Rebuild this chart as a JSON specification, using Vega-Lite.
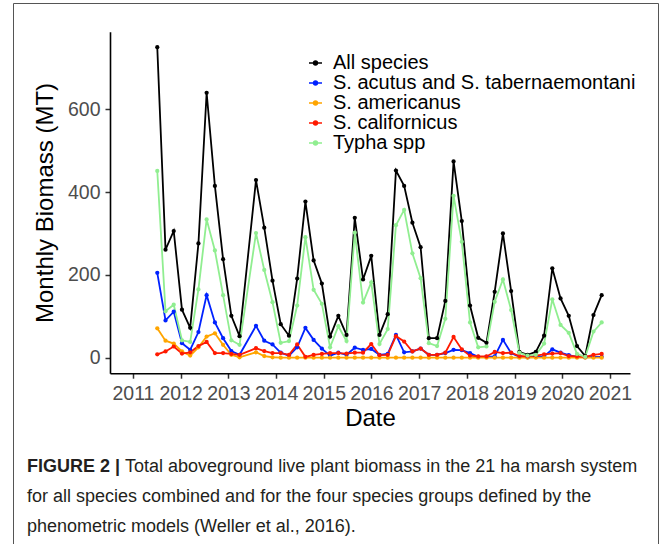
{
  "$schema": "https://vega.github.io/schema/vega-lite/v6.json",
  "width": 645,
  "height": 545,
  "autosize": {"type": "none"},
  "padding": {"left": 13, "top": 3, "right": 13, "bottom": -4},
  "background": "white",
  "config": {
    "view": {"stroke": "#555555", "strokeWidth": 1},
    "font": "Liberation Sans"
  },
  "title": {
    "text": "FIGURE 2 |",
    "subtitle": [
      "\u200b\u00a0\u00a0\u00a0\u00a0\u00a0\u00a0\u00a0\u00a0\u00a0\u00a0\u00a0\u00a0\u00a0\u00a0\u00a0\u00a0\u00a0\u00a0\u00a0\u2006Total aboveground live plant biomass in the 21 ha marsh system",
      "for all species combined and for the four species groups defined by the",
      "phenometric models (Weller et al., 2016)."
    ],
    "orient": "bottom",
    "anchor": "start",
    "frame": "group",
    "offset": -90,
    "dx": 14,
    "font": "Liberation Sans",
    "fontSize": 18,
    "fontWeight": "bold",
    "color": "#231F20",
    "subtitleFont": "Liberation Sans",
    "subtitleFontSize": 18,
    "subtitleFontWeight": "normal",
    "subtitleColor": "#231F20",
    "subtitleLineHeight": 30,
    "subtitlePadding": -18
  },
  "data": {
    "values": [
      {"year":2011.509,"species":"All species","biomass":750},
      {"year":2011.682,"species":"All species","biomass":261},
      {"year":2011.854,"species":"All species","biomass":306},
      {"year":2012.027,"species":"All species","biomass":116},
      {"year":2012.199,"species":"All species","biomass":72},
      {"year":2012.372,"species":"All species","biomass":276},
      {"year":2012.544,"species":"All species","biomass":640},
      {"year":2012.717,"species":"All species","biomass":415},
      {"year":2012.889,"species":"All species","biomass":238},
      {"year":2013.062,"species":"All species","biomass":101},
      {"year":2013.234,"species":"All species","biomass":52},
      {"year":2013.579,"species":"All species","biomass":429},
      {"year":2013.752,"species":"All species","biomass":314},
      {"year":2013.925,"species":"All species","biomass":186},
      {"year":2014.097,"species":"All species","biomass":81},
      {"year":2014.270,"species":"All species","biomass":53},
      {"year":2014.442,"species":"All species","biomass":191},
      {"year":2014.615,"species":"All species","biomass":377},
      {"year":2014.787,"species":"All species","biomass":235},
      {"year":2014.960,"species":"All species","biomass":179},
      {"year":2015.132,"species":"All species","biomass":51},
      {"year":2015.305,"species":"All species","biomass":101},
      {"year":2015.477,"species":"All species","biomass":55},
      {"year":2015.650,"species":"All species","biomass":338},
      {"year":2015.823,"species":"All species","biomass":189},
      {"year":2015.995,"species":"All species","biomass":246},
      {"year":2016.168,"species":"All species","biomass":55},
      {"year":2016.340,"species":"All species","biomass":105},
      {"year":2016.513,"species":"All species","biomass":452},
      {"year":2016.685,"species":"All species","biomass":415},
      {"year":2016.858,"species":"All species","biomass":326},
      {"year":2017.030,"species":"All species","biomass":267},
      {"year":2017.203,"species":"All species","biomass":47},
      {"year":2017.375,"species":"All species","biomass":47},
      {"year":2017.548,"species":"All species","biomass":137},
      {"year":2017.721,"species":"All species","biomass":474},
      {"year":2017.893,"species":"All species","biomass":330},
      {"year":2018.066,"species":"All species","biomass":126},
      {"year":2018.238,"species":"All species","biomass":48},
      {"year":2018.411,"species":"All species","biomass":36},
      {"year":2018.583,"species":"All species","biomass":159},
      {"year":2018.756,"species":"All species","biomass":300},
      {"year":2018.928,"species":"All species","biomass":161},
      {"year":2019.101,"species":"All species","biomass":14},
      {"year":2019.273,"species":"All species","biomass":7},
      {"year":2019.446,"species":"All species","biomass":14},
      {"year":2019.619,"species":"All species","biomass":53},
      {"year":2019.791,"species":"All species","biomass":216},
      {"year":2019.964,"species":"All species","biomass":143},
      {"year":2020.136,"species":"All species","biomass":101},
      {"year":2020.309,"species":"All species","biomass":28},
      {"year":2020.481,"species":"All species","biomass":4},
      {"year":2020.654,"species":"All species","biomass":103},
      {"year":2020.826,"species":"All species","biomass":151},

      {"year":2011.509,"species":"S. acutus and S. tabernaemontani","biomass":205},
      {"year":2011.682,"species":"S. acutus and S. tabernaemontani","biomass":90},
      {"year":2011.854,"species":"S. acutus and S. tabernaemontani","biomass":111},
      {"year":2012.027,"species":"S. acutus and S. tabernaemontani","biomass":35},
      {"year":2012.199,"species":"S. acutus and S. tabernaemontani","biomass":19},
      {"year":2012.372,"species":"S. acutus and S. tabernaemontani","biomass":62},
      {"year":2012.544,"species":"S. acutus and S. tabernaemontani","biomass":151},
      {"year":2012.717,"species":"S. acutus and S. tabernaemontani","biomass":85},
      {"year":2012.889,"species":"S. acutus and S. tabernaemontani","biomass":47},
      {"year":2013.062,"species":"S. acutus and S. tabernaemontani","biomass":16},
      {"year":2013.234,"species":"S. acutus and S. tabernaemontani","biomass":7},
      {"year":2013.579,"species":"S. acutus and S. tabernaemontani","biomass":77},
      {"year":2013.752,"species":"S. acutus and S. tabernaemontani","biomass":41},
      {"year":2013.925,"species":"S. acutus and S. tabernaemontani","biomass":32},
      {"year":2014.097,"species":"S. acutus and S. tabernaemontani","biomass":12},
      {"year":2014.270,"species":"S. acutus and S. tabernaemontani","biomass":5},
      {"year":2014.442,"species":"S. acutus and S. tabernaemontani","biomass":25},
      {"year":2014.615,"species":"S. acutus and S. tabernaemontani","biomass":72},
      {"year":2014.787,"species":"S. acutus and S. tabernaemontani","biomass":43},
      {"year":2014.960,"species":"S. acutus and S. tabernaemontani","biomass":22},
      {"year":2015.132,"species":"S. acutus and S. tabernaemontani","biomass":5},
      {"year":2015.305,"species":"S. acutus and S. tabernaemontani","biomass":12},
      {"year":2015.477,"species":"S. acutus and S. tabernaemontani","biomass":7},
      {"year":2015.650,"species":"S. acutus and S. tabernaemontani","biomass":24},
      {"year":2015.823,"species":"S. acutus and S. tabernaemontani","biomass":19},
      {"year":2015.995,"species":"S. acutus and S. tabernaemontani","biomass":21},
      {"year":2016.168,"species":"S. acutus and S. tabernaemontani","biomass":7},
      {"year":2016.340,"species":"S. acutus and S. tabernaemontani","biomass":9},
      {"year":2016.513,"species":"S. acutus and S. tabernaemontani","biomass":55},
      {"year":2016.685,"species":"S. acutus and S. tabernaemontani","biomass":13},
      {"year":2016.858,"species":"S. acutus and S. tabernaemontani","biomass":15},
      {"year":2017.030,"species":"S. acutus and S. tabernaemontani","biomass":22},
      {"year":2017.203,"species":"S. acutus and S. tabernaemontani","biomass":7},
      {"year":2017.375,"species":"S. acutus and S. tabernaemontani","biomass":7},
      {"year":2017.548,"species":"S. acutus and S. tabernaemontani","biomass":11},
      {"year":2017.721,"species":"S. acutus and S. tabernaemontani","biomass":19},
      {"year":2017.893,"species":"S. acutus and S. tabernaemontani","biomass":18},
      {"year":2018.066,"species":"S. acutus and S. tabernaemontani","biomass":11},
      {"year":2018.238,"species":"S. acutus and S. tabernaemontani","biomass":2},
      {"year":2018.411,"species":"S. acutus and S. tabernaemontani","biomass":2},
      {"year":2018.583,"species":"S. acutus and S. tabernaemontani","biomass":3},
      {"year":2018.756,"species":"S. acutus and S. tabernaemontani","biomass":43},
      {"year":2018.928,"species":"S. acutus and S. tabernaemontani","biomass":11},
      {"year":2019.101,"species":"S. acutus and S. tabernaemontani","biomass":2},
      {"year":2019.273,"species":"S. acutus and S. tabernaemontani","biomass":1},
      {"year":2019.446,"species":"S. acutus and S. tabernaemontani","biomass":2},
      {"year":2019.619,"species":"S. acutus and S. tabernaemontani","biomass":3},
      {"year":2019.791,"species":"S. acutus and S. tabernaemontani","biomass":20},
      {"year":2019.964,"species":"S. acutus and S. tabernaemontani","biomass":12},
      {"year":2020.136,"species":"S. acutus and S. tabernaemontani","biomass":6},
      {"year":2020.309,"species":"S. acutus and S. tabernaemontani","biomass":2},
      {"year":2020.481,"species":"S. acutus and S. tabernaemontani","biomass":1},
      {"year":2020.654,"species":"S. acutus and S. tabernaemontani","biomass":2},
      {"year":2020.826,"species":"S. acutus and S. tabernaemontani","biomass":2},

      {"year":2011.509,"species":"S. americanus","biomass":71},
      {"year":2011.682,"species":"S. americanus","biomass":41},
      {"year":2011.854,"species":"S. americanus","biomass":34},
      {"year":2012.027,"species":"S. americanus","biomass":15},
      {"year":2012.199,"species":"S. americanus","biomass":5},
      {"year":2012.372,"species":"S. americanus","biomass":25},
      {"year":2012.544,"species":"S. americanus","biomass":51},
      {"year":2012.717,"species":"S. americanus","biomass":59},
      {"year":2012.889,"species":"S. americanus","biomass":31},
      {"year":2013.062,"species":"S. americanus","biomass":7},
      {"year":2013.234,"species":"S. americanus","biomass":1},
      {"year":2013.579,"species":"S. americanus","biomass":13},
      {"year":2013.752,"species":"S. americanus","biomass":4},
      {"year":2013.925,"species":"S. americanus","biomass":1},
      {"year":2014.097,"species":"S. americanus","biomass":0},
      {"year":2014.270,"species":"S. americanus","biomass":0},
      {"year":2014.442,"species":"S. americanus","biomass":0},
      {"year":2014.615,"species":"S. americanus","biomass":0},
      {"year":2014.787,"species":"S. americanus","biomass":0},
      {"year":2014.960,"species":"S. americanus","biomass":0},
      {"year":2015.132,"species":"S. americanus","biomass":0},
      {"year":2015.305,"species":"S. americanus","biomass":0},
      {"year":2015.477,"species":"S. americanus","biomass":0},
      {"year":2015.650,"species":"S. americanus","biomass":0},
      {"year":2015.823,"species":"S. americanus","biomass":0},
      {"year":2015.995,"species":"S. americanus","biomass":0},
      {"year":2016.168,"species":"S. americanus","biomass":0},
      {"year":2016.340,"species":"S. americanus","biomass":0},
      {"year":2016.513,"species":"S. americanus","biomass":0},
      {"year":2016.685,"species":"S. americanus","biomass":0},
      {"year":2016.858,"species":"S. americanus","biomass":0},
      {"year":2017.030,"species":"S. americanus","biomass":0},
      {"year":2017.203,"species":"S. americanus","biomass":0},
      {"year":2017.375,"species":"S. americanus","biomass":0},
      {"year":2017.548,"species":"S. americanus","biomass":0},
      {"year":2017.721,"species":"S. americanus","biomass":0},
      {"year":2017.893,"species":"S. americanus","biomass":0},
      {"year":2018.066,"species":"S. americanus","biomass":0},
      {"year":2018.238,"species":"S. americanus","biomass":0},
      {"year":2018.411,"species":"S. americanus","biomass":0},
      {"year":2018.583,"species":"S. americanus","biomass":0},
      {"year":2018.756,"species":"S. americanus","biomass":0},
      {"year":2018.928,"species":"S. americanus","biomass":0},
      {"year":2019.101,"species":"S. americanus","biomass":0},
      {"year":2019.273,"species":"S. americanus","biomass":0},
      {"year":2019.446,"species":"S. americanus","biomass":0},
      {"year":2019.619,"species":"S. americanus","biomass":0},
      {"year":2019.791,"species":"S. americanus","biomass":0},
      {"year":2019.964,"species":"S. americanus","biomass":0},
      {"year":2020.136,"species":"S. americanus","biomass":0},
      {"year":2020.309,"species":"S. americanus","biomass":0},
      {"year":2020.481,"species":"S. americanus","biomass":0},
      {"year":2020.654,"species":"S. americanus","biomass":0},
      {"year":2020.826,"species":"S. americanus","biomass":0},

      {"year":2011.509,"species":"S. californicus","biomass":8},
      {"year":2011.682,"species":"S. californicus","biomass":15},
      {"year":2011.854,"species":"S. californicus","biomass":27},
      {"year":2012.027,"species":"S. californicus","biomass":10},
      {"year":2012.199,"species":"S. californicus","biomass":13},
      {"year":2012.372,"species":"S. californicus","biomass":28},
      {"year":2012.544,"species":"S. californicus","biomass":38},
      {"year":2012.717,"species":"S. californicus","biomass":11},
      {"year":2012.889,"species":"S. californicus","biomass":11},
      {"year":2013.062,"species":"S. californicus","biomass":9},
      {"year":2013.234,"species":"S. californicus","biomass":7},
      {"year":2013.579,"species":"S. californicus","biomass":23},
      {"year":2013.752,"species":"S. californicus","biomass":16},
      {"year":2013.925,"species":"S. californicus","biomass":11},
      {"year":2014.097,"species":"S. californicus","biomass":11},
      {"year":2014.270,"species":"S. californicus","biomass":7},
      {"year":2014.442,"species":"S. californicus","biomass":32},
      {"year":2014.615,"species":"S. californicus","biomass":2},
      {"year":2014.787,"species":"S. californicus","biomass":7},
      {"year":2014.960,"species":"S. californicus","biomass":9},
      {"year":2015.132,"species":"S. californicus","biomass":11},
      {"year":2015.305,"species":"S. californicus","biomass":11},
      {"year":2015.477,"species":"S. californicus","biomass":10},
      {"year":2015.650,"species":"S. californicus","biomass":12},
      {"year":2015.823,"species":"S. californicus","biomass":12},
      {"year":2015.995,"species":"S. californicus","biomass":33},
      {"year":2016.168,"species":"S. californicus","biomass":6},
      {"year":2016.340,"species":"S. californicus","biomass":7},
      {"year":2016.513,"species":"S. californicus","biomass":52},
      {"year":2016.685,"species":"S. californicus","biomass":39},
      {"year":2016.858,"species":"S. californicus","biomass":15},
      {"year":2017.030,"species":"S. californicus","biomass":22},
      {"year":2017.203,"species":"S. californicus","biomass":7},
      {"year":2017.375,"species":"S. californicus","biomass":7},
      {"year":2017.548,"species":"S. californicus","biomass":12},
      {"year":2017.721,"species":"S. californicus","biomass":50},
      {"year":2017.893,"species":"S. californicus","biomass":20},
      {"year":2018.066,"species":"S. californicus","biomass":5},
      {"year":2018.238,"species":"S. californicus","biomass":3},
      {"year":2018.411,"species":"S. californicus","biomass":3},
      {"year":2018.583,"species":"S. californicus","biomass":14},
      {"year":2018.756,"species":"S. californicus","biomass":11},
      {"year":2018.928,"species":"S. californicus","biomass":12},
      {"year":2019.101,"species":"S. californicus","biomass":4},
      {"year":2019.273,"species":"S. californicus","biomass":3},
      {"year":2019.446,"species":"S. californicus","biomass":5},
      {"year":2019.619,"species":"S. californicus","biomass":8},
      {"year":2019.791,"species":"S. californicus","biomass":10},
      {"year":2019.964,"species":"S. californicus","biomass":11},
      {"year":2020.136,"species":"S. californicus","biomass":4},
      {"year":2020.309,"species":"S. californicus","biomass":3},
      {"year":2020.481,"species":"S. californicus","biomass":2},
      {"year":2020.654,"species":"S. californicus","biomass":7},
      {"year":2020.826,"species":"S. californicus","biomass":9},

      {"year":2011.509,"species":"Typha spp","biomass":451},
      {"year":2011.682,"species":"Typha spp","biomass":112},
      {"year":2011.854,"species":"Typha spp","biomass":128},
      {"year":2012.027,"species":"Typha spp","biomass":42},
      {"year":2012.199,"species":"Typha spp","biomass":38},
      {"year":2012.372,"species":"Typha spp","biomass":165},
      {"year":2012.544,"species":"Typha spp","biomass":334},
      {"year":2012.717,"species":"Typha spp","biomass":259},
      {"year":2012.889,"species":"Typha spp","biomass":151},
      {"year":2013.062,"species":"Typha spp","biomass":42},
      {"year":2013.234,"species":"Typha spp","biomass":31},
      {"year":2013.579,"species":"Typha spp","biomass":301},
      {"year":2013.752,"species":"Typha spp","biomass":212},
      {"year":2013.925,"species":"Typha spp","biomass":134},
      {"year":2014.097,"species":"Typha spp","biomass":36},
      {"year":2014.270,"species":"Typha spp","biomass":40},
      {"year":2014.442,"species":"Typha spp","biomass":126},
      {"year":2014.615,"species":"Typha spp","biomass":291},
      {"year":2014.787,"species":"Typha spp","biomass":164},
      {"year":2014.960,"species":"Typha spp","biomass":130},
      {"year":2015.132,"species":"Typha spp","biomass":25},
      {"year":2015.305,"species":"Typha spp","biomass":76},
      {"year":2015.477,"species":"Typha spp","biomass":40},
      {"year":2015.650,"species":"Typha spp","biomass":302},
      {"year":2015.823,"species":"Typha spp","biomass":133},
      {"year":2015.995,"species":"Typha spp","biomass":182},
      {"year":2016.168,"species":"Typha spp","biomass":33},
      {"year":2016.340,"species":"Typha spp","biomass":69},
      {"year":2016.513,"species":"Typha spp","biomass":320},
      {"year":2016.685,"species":"Typha spp","biomass":357},
      {"year":2016.858,"species":"Typha spp","biomass":252},
      {"year":2017.030,"species":"Typha spp","biomass":192},
      {"year":2017.203,"species":"Typha spp","biomass":35},
      {"year":2017.375,"species":"Typha spp","biomass":28},
      {"year":2017.548,"species":"Typha spp","biomass":94},
      {"year":2017.721,"species":"Typha spp","biomass":391},
      {"year":2017.893,"species":"Typha spp","biomass":280},
      {"year":2018.066,"species":"Typha spp","biomass":85},
      {"year":2018.238,"species":"Typha spp","biomass":25},
      {"year":2018.411,"species":"Typha spp","biomass":27},
      {"year":2018.583,"species":"Typha spp","biomass":135},
      {"year":2018.756,"species":"Typha spp","biomass":189},
      {"year":2018.928,"species":"Typha spp","biomass":115},
      {"year":2019.101,"species":"Typha spp","biomass":12},
      {"year":2019.273,"species":"Typha spp","biomass":5},
      {"year":2019.446,"species":"Typha spp","biomass":7},
      {"year":2019.619,"species":"Typha spp","biomass":34},
      {"year":2019.791,"species":"Typha spp","biomass":141},
      {"year":2019.964,"species":"Typha spp","biomass":79},
      {"year":2020.136,"species":"Typha spp","biomass":60},
      {"year":2020.309,"species":"Typha spp","biomass":9},
      {"year":2020.481,"species":"Typha spp","biomass":2},
      {"year":2020.654,"species":"Typha spp","biomass":63},
      {"year":2020.826,"species":"Typha spp","biomass":85}
    ]
  },
  "encoding": {
    "x": {
      "field": "year",
      "type": "quantitative",
      "scale": {"domain": [2010.518, 2021.42], "range": [97, 617], "nice": false, "zero": false},
      "axis": {
        "title": "Date",
        "offset": -174.8,
        "values": [2011, 2012, 2013, 2014, 2015, 2016, 2017, 2018, 2019, 2020, 2021],
        "format": "d",
        "grid": false,
        "domainColor": "black",
        "domainWidth": 1.6,
        "tickColor": "#333333",
        "tickWidth": 1.5,
        "tickSize": 5,
        "labelFont": "Liberation Sans",
        "labelFontSize": 19.5,
        "labelColor": "#4D4D4D",
        "labelPadding": 6,
        "labelFlush": false,
        "labelOverlap": false,
        "titleFont": "Liberation Sans",
        "titleFontSize": 24,
        "titleFontWeight": "normal",
        "titleColor": "black",
        "titlePadding": 4
      }
    },
    "y": {
      "field": "biomass",
      "type": "quantitative",
      "scale": {"domain": [-37.5, 787.5], "range": [370.2, 28.7], "nice": false, "zero": false},
      "axis": {
        "title": "Monthly Biomass (MT)",
        "offset": -97,
        "values": [0, 200, 400, 600],
        "grid": false,
        "domainColor": "black",
        "domainWidth": 1.6,
        "tickColor": "#333333",
        "tickWidth": 1.5,
        "tickSize": 5,
        "labelFont": "Liberation Sans",
        "labelFontSize": 19.5,
        "labelColor": "#4D4D4D",
        "labelPadding": 5,
        "titleFont": "Liberation Sans",
        "titleFontSize": 24,
        "titleFontWeight": "normal",
        "titleColor": "black",
        "titlePadding": 10
      }
    },
    "color": {
      "field": "species",
      "type": "nominal",
      "scale": {
        "domain": ["All species", "S. acutus and S. tabernaemontani", "S. americanus", "S. californicus", "Typha spp"],
        "range": ["#000000", "#0022FF", "#FFA500", "#FF1A00", "#90EE90"]
      },
      "legend": {
        "title": null,
        "orient": "none",
        "legendX": 292.5,
        "legendY": 50,
        "padding": 0,
        "labelFont": "Liberation Sans",
        "labelFontSize": 20,
        "labelColor": "black",
        "labelLimit": 0,
        "labelOffset": 7.5,
        "rowPadding": -2,
        "symbolType": "M-1,0H1M-0.28,0A0.28,0.28 0 1,1 0.28,0A0.28,0.28 0 1,1 -0.28,0",
        "symbolSize": 169,
        "symbolStrokeWidth": 1.7,
        "encode": {
          "symbols": {
            "update": {
              "fill": {"scale": "color", "field": "value"},
              "stroke": {"scale": "color", "field": "value"},
              "opacity": {"value": 1}
            }
          }
        }
      }
    }
  },
  "layer": [
    {"mark": {"type": "line", "strokeWidth": 1.8}},
    {"mark": {"type": "circle", "size": 18, "opacity": 1}}
  ]
}
